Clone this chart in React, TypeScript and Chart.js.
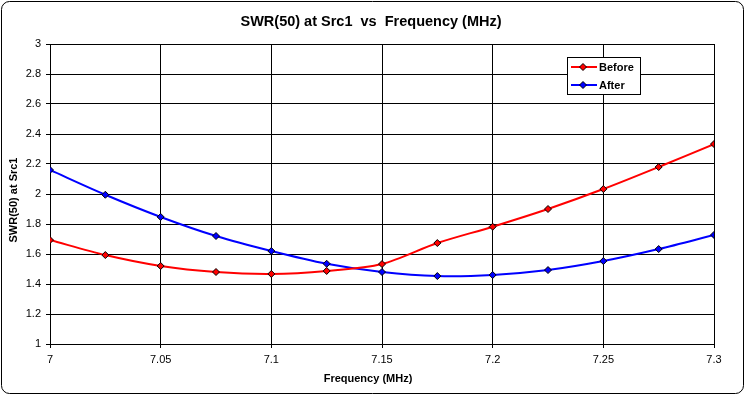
import React, { useEffect, useRef } from "react";
import { Chart, registerables } from "chart.js";

Chart.register(...registerables);

const freqs = [7, 7.025, 7.05, 7.075, 7.1, 7.125, 7.15, 7.175, 7.2, 7.225, 7.25, 7.275, 7.3];
const before = [1.693, 1.593, 1.52, 1.48, 1.467, 1.487, 1.533, 1.673, 1.782, 1.9, 2.033, 2.18, 2.333];
const after = [2.16, 1.995, 1.847, 1.72, 1.62, 1.535, 1.48, 1.453, 1.46, 1.493, 1.553, 1.633, 1.727];
const seriesNames = ["Before", "After"];
const seriesColors = ["#ff0000", "#0000ff"];
const titleText = "SWR(50) at Src1  vs  Frequency (MHz)";
const xTitle = "Frequency (MHz)";
const yTitle = "SWR(50) at Src1";

const FONT = "'Liberation Sans', Arial, sans-serif";

function fmt(v: number) {
  return String(Math.round(v * 1000) / 1000);
}

const decorPlugin = {
  id: "decor",
  beforeDraw(chart: any) {
    const ctx = chart.ctx;
    ctx.save();
    ctx.fillStyle = "#ffffff";
    ctx.fillRect(0, 0, chart.width, chart.height);
    const x0 = 1.5, y0 = 1.5, x1 = 743.5, y1 = 393.5, r = 8;
    ctx.beginPath();
    ctx.moveTo(x0 + r, y0);
    ctx.lineTo(x1 - r, y0);
    ctx.arcTo(x1, y0, x1, y0 + r, r);
    ctx.lineTo(x1, y1 - r);
    ctx.arcTo(x1, y1, x1 - r, y1, r);
    ctx.lineTo(x0 + r, y1);
    ctx.arcTo(x0, y1, x0, y1 - r, r);
    ctx.lineTo(x0, y0 + r);
    ctx.arcTo(x0, y0, x0 + r, y0, r);
    ctx.closePath();
    ctx.strokeStyle = "#000000";
    ctx.lineWidth = 1;
    ctx.stroke();
    ctx.restore();
  },
  afterDraw(chart: any) {
    const ctx = chart.ctx;
    ctx.save();
    ctx.fillStyle = "#000000";
    ctx.textAlign = "center";
    ctx.textBaseline = "middle";
    ctx.font = `bold 14.5px ${FONT}`;
    ctx.fillText(titleText, 371, 22);
    ctx.font = `bold 11px ${FONT}`;
    ctx.fillText(xTitle, 368, 379);
    ctx.save();
    ctx.translate(14, 200);
    ctx.rotate(-Math.PI / 2);
    ctx.fillText(yTitle, 0, 0);
    ctx.restore();

    // legend
    const lx = 567.5, ly = 57.5, lw = 73, lh = 37;
    ctx.fillStyle = "#ffffff";
    ctx.fillRect(lx, ly, lw, lh);
    ctx.strokeStyle = "#000000";
    ctx.lineWidth = 1;
    ctx.strokeRect(lx, ly, lw, lh);
    seriesNames.forEach((name, i) => {
      const yy = 67 + i * 18;
      ctx.strokeStyle = seriesColors[i];
      ctx.lineWidth = 2;
      ctx.beginPath();
      ctx.moveTo(571, yy);
      ctx.lineTo(597, yy);
      ctx.stroke();
      ctx.beginPath();
      ctx.moveTo(583, yy - 3.5);
      ctx.lineTo(586.5, yy);
      ctx.lineTo(583, yy + 3.5);
      ctx.lineTo(579.5, yy);
      ctx.closePath();
      ctx.fillStyle = seriesColors[i];
      ctx.fill();
      ctx.strokeStyle = "#000000";
      ctx.lineWidth = 1;
      ctx.stroke();
      ctx.fillStyle = "#000000";
      ctx.textAlign = "left";
      ctx.font = `bold 11px ${FONT}`;
      ctx.fillText(name, 599, yy + 0.5);
    });
    ctx.restore();
  },
};

export default function App() {
  const ref = useRef<HTMLCanvasElement | null>(null);
  useEffect(() => {
    if (!ref.current) return;
    const mk = (vals: number[], i: number) => ({
      label: seriesNames[i],
      data: freqs.map((f, k) => ({ x: f, y: vals[k] })),
      borderColor: seriesColors[i],
      backgroundColor: seriesColors[i],
      borderWidth: 2,
      tension: 0.3,
      pointStyle: "rectRot" as const,
      pointRadius: 3.5,
      pointBackgroundColor: seriesColors[i],
      pointBorderColor: "#000000",
      pointBorderWidth: 1,
    });
    const chart = new Chart(ref.current, {
      type: "line",
      data: { datasets: [mk(before, 0), mk(after, 1)] },
      options: {
        animation: false,
        responsive: false,
        layout: { padding: { left: 0, top: 44, right: 31, bottom: 0 } },
        plugins: { legend: { display: false }, title: { display: false }, tooltip: { enabled: false } },
        scales: {
          x: {
            type: "linear",
            min: 7,
            max: 7.3,
            afterFit: (s: any) => { s.height = 51; },
            ticks: {
              stepSize: 0.05,
              callback: (v: any) => fmt(Number(v)),
              color: "#000000",
              font: { family: FONT, size: 11 },
              padding: 5,
              maxRotation: 0,
              autoSkip: false,
            },
            grid: { color: "#000000", lineWidth: 1, tickLength: 4 },
            border: { color: "#000000", width: 1 },
          },
          y: {
            type: "linear",
            min: 1,
            max: 3,
            afterFit: (s: any) => { s.width = 50; },
            ticks: {
              stepSize: 0.2,
              callback: (v: any) => fmt(Number(v)),
              color: "#000000",
              font: { family: FONT, size: 11 },
              padding: 5,
              autoSkip: false,
            },
            grid: { color: "#000000", lineWidth: 1, tickLength: 4 },
            border: { color: "#000000", width: 1 },
          },
        },
      },
      plugins: [decorPlugin],
    });
    return () => chart.destroy();
  }, []);
  return (
    <div style={{ position: "fixed", left: 0, top: 0, width: 745, height: 395 }}>
      <canvas ref={ref} width={745} height={395} style={{ width: 745, height: 395, display: "block" }} />
    </div>
  );
}
